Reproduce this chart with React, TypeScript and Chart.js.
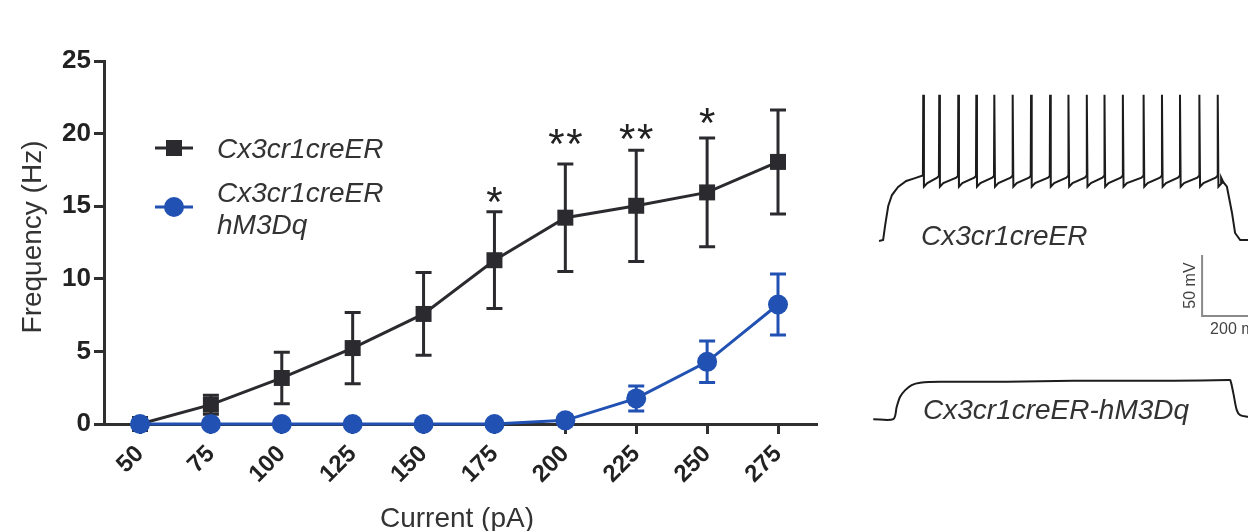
import React, { useEffect, useRef } from "react";
import { Chart, registerables } from "chart.js";
Chart.register(...registerables);

// ---------- Left panel: frequency vs current ----------
const currents = [50, 75, 100, 125, 150, 175, 200, 225, 250, 275];
const ctrlFreq = [0, 1.33, 3.17, 5.23, 7.58, 11.28, 14.21, 15.03, 15.95, 18.05];
const ctrlSem = [0, 0.65, 1.77, 2.45, 2.85, 3.33, 3.7, 3.83, 3.75, 3.58];
const dqFreq = [0, 0, 0, 0, 0, 0, 0.25, 1.76, 4.28, 8.23];
const dqSem = [0, 0, 0, 0, 0, 0, 0, 0.86, 1.43, 2.1];
const yTicks = [0, 5, 10, 15, 20, 25];
const sigCurrents = [175, 200, 225, 250];
const sigLabels = ["*", "**", "**", "*"];
const sigHeights = [15.95, 20.0, 20.3, 21.4];
const seriesNames = ["Cx3cr1creER", "Cx3cr1creER", "hM3Dq"];
const xTitle = "Current (pA)";
const yTitle = "Frequency (Hz)";

// ---------- Right panel: voltage traces (ms, mV) ----------
const ctrlSpikeTimes = [118, 165, 221, 274, 327, 381, 435, 491, 545, 599, 651, 705, 766, 820, 873, 930, 984];
const ctrlOnset: [number, number][] = [[-12, -70], [0, -69.2], [6, -56.9], [15, -41.3], [26, -32.3], [44, -25.7], [68, -20.8], [94, -18.4], [114, -16.5]];
const ctrlOffset: [number, number][] = [[1000, -21.6], [1011, -25.5], [1026, -47], [1035, -63.4], [1050, -69.2], [1075, -69.2]];
const spikePeak = 50;
const spikeTrough = -25.5;
const spikeThreshold = -16.5;
const dqTrace: [number, number][] = [[-29, -70], [30, -70], [40, -59.9], [50, -51.7], [65, -46.2], [84, -42.1], [109, -40.2], [168, -39.4], [364, -39.4], [559, -38.6], [853, -38.6], [1016, -38], [1021, -38], [1030, -48.9], [1040, -62.6], [1050, -66.7], [1075, -68.1]];
const dqDisplayOffset = 146;
const scaleBarT = 938;
const scaleBarBottom = -131.5;
const scaleBarMv = 50;
const scaleBarMs = 200;
const traceNames = ["Cx3cr1creER", "Cx3cr1creER-hM3Dq"];

const DARK = "#2b2b2f";
const BLUE = "#2151b2";
const AXIS = "#2f2f2f";
const FONT = "Arial, 'Liberation Sans', Helvetica, sans-serif";

const errorBarPlugin = {
  id: "errorBars",
  afterDatasetDraw(chart: any, args: any) {
    const ds = chart.data.datasets[args.index];
    const sem: number[] = ds.sem;
    if (!sem) return;
    const ctx = chart.ctx;
    const ys = chart.scales.y;
    ctx.save();
    ctx.strokeStyle = ds.borderColor;
    ctx.lineWidth = 3;
    args.meta.data.forEach((pt: any, j: number) => {
      if (!sem[j]) return;
      const v = ds.data[j].y;
      const top = ys.getPixelForValue(v + sem[j]);
      const bot = ys.getPixelForValue(v - sem[j]);
      const x = pt.x;
      ctx.beginPath();
      ctx.moveTo(x, top);
      ctx.lineTo(x, bot);
      ctx.moveTo(x - 8, top);
      ctx.lineTo(x + 8, top);
      ctx.moveTo(x - 8, bot);
      ctx.lineTo(x + 8, bot);
      ctx.stroke();
    });
    ctx.restore();
  },
};

const decorPlugin = {
  id: "decor",
  afterDraw(chart: any) {
    const ctx = chart.ctx;
    const xs = chart.scales.x;
    const ys = chart.scales.y;
    ctx.save();
    // significance stars
    ctx.fillStyle = "#222";
    ctx.font = `42px ${FONT}`;
    ctx.textAlign = "center";
    ctx.textBaseline = "alphabetic";
    sigCurrents.forEach((c, i) => {
      const x = xs.getPixelForValue(c);
      const y = ys.getPixelForValue(sigHeights[i]) + 24;
      const n = sigLabels[i].length;
      for (let k = 0; k < n; k++) {
        const dx = (k - (n - 1) / 2) * 18;
        ctx.fillText("*", x + dx, y);
      }
    });
    // legend
    ctx.lineWidth = 3;
    ctx.strokeStyle = DARK;
    ctx.fillStyle = DARK;
    ctx.beginPath();
    ctx.moveTo(155, 148);
    ctx.lineTo(193, 148);
    ctx.stroke();
    ctx.fillRect(174 - 8, 148 - 8, 16, 16);
    ctx.strokeStyle = BLUE;
    ctx.fillStyle = BLUE;
    ctx.beginPath();
    ctx.moveTo(155, 207);
    ctx.lineTo(193, 207);
    ctx.stroke();
    ctx.beginPath();
    ctx.arc(174, 207, 10, 0, Math.PI * 2);
    ctx.fill();
    ctx.fillStyle = "#333";
    ctx.font = `italic 28px ${FONT}`;
    ctx.textAlign = "left";
    ctx.fillText(seriesNames[0], 217, 158);
    ctx.fillText(seriesNames[1], 217, 202);
    ctx.fillText(seriesNames[2], 217, 234);
    // axis titles
    ctx.font = `28px ${FONT}`;
    ctx.textAlign = "center";
    ctx.fillText(xTitle, 457, 527);
    ctx.translate(33, 237);
    ctx.rotate(-Math.PI / 2);
    ctx.textBaseline = "middle";
    ctx.fillText(yTitle, 0, 0);
    ctx.restore();
  },
};

const tracePlugin = {
  id: "traceText",
  afterDraw(chart: any) {
    const ctx = chart.ctx;
    const xs = chart.scales.x;
    const ys = chart.scales.y;
    ctx.save();
    ctx.fillStyle = "#333";
    ctx.font = `italic 28px ${FONT}`;
    ctx.textAlign = "left";
    ctx.textBaseline = "alphabetic";
    ctx.fillText(traceNames[0], 61, 185);
    ctx.fillText(traceNames[1], 63, 359);
    ctx.fillStyle = "#444";
    ctx.font = `16px ${FONT}`;
    const bx = xs.getPixelForValue(scaleBarT);
    const by = ys.getPixelForValue(scaleBarBottom);
    const bmid = ys.getPixelForValue(scaleBarBottom + scaleBarMv / 2);
    ctx.fillText(`${scaleBarMs} ms`, bx + 8, by + 18);
    ctx.translate(bx - 7, bmid);
    ctx.rotate(-Math.PI / 2);
    ctx.textAlign = "center";
    ctx.fillText(`${scaleBarMv} mV`, 0, 0);
    ctx.restore();
  },
};

function buildCtrlTrace() {
  const pts: { x: number; y: number }[] = ctrlOnset.map(([x, y]) => ({ x, y }));
  ctrlSpikeTimes.forEach((ts, i) => {
    const next = i + 1 < ctrlSpikeTimes.length ? ctrlSpikeTimes[i + 1] : 1000;
    pts.push({ x: ts - 1, y: spikeThreshold });
    pts.push({ x: ts, y: spikePeak });
    pts.push({ x: ts + 2, y: spikeTrough });
    pts.push({ x: ts + 12, y: spikeTrough + 3 });
    pts.push({ x: next - 6, y: spikeThreshold - 1.5 });
  });
  ctrlOffset.forEach(([x, y]) => pts.push({ x, y }));
  return pts;
}

export default function App() {
  const leftRef = useRef<HTMLCanvasElement>(null);
  const rightRef = useRef<HTMLCanvasElement>(null);

  useEffect(() => {
    const axisCommon = {
      grid: { drawOnChartArea: false, drawTicks: true, tickLength: 10, color: AXIS, lineWidth: 3 },
      border: { display: true, color: AXIS, width: 3 },
    };
    const c1 = new Chart(leftRef.current as HTMLCanvasElement, {
      type: "line",
      data: {
        datasets: [
          {
            label: seriesNames[1] + " " + seriesNames[2],
            data: currents.map((c, i) => ({ x: c, y: dqFreq[i] })),
            sem: dqSem,
            borderColor: BLUE,
            backgroundColor: BLUE,
            borderWidth: 3,
            pointStyle: "circle",
            pointRadius: 10,
            pointBorderWidth: 0,
            tension: 0,
            order: 0,
            clip: false,
          } as any,
          {
            label: seriesNames[0],
            data: currents.map((c, i) => ({ x: c, y: ctrlFreq[i] })),
            sem: ctrlSem,
            borderColor: DARK,
            backgroundColor: DARK,
            borderWidth: 3,
            pointStyle: "rect",
            pointRadius: 11.3,
            pointBorderWidth: 0,
            tension: 0,
            order: 1,
            clip: false,
          } as any,
        ],
      },
      options: {
        responsive: false,
        animation: false,
        devicePixelRatio: 1,
        events: [],
        layout: { padding: { top: 61, right: 24, left: 0, bottom: 0 } },
        plugins: { legend: { display: false }, tooltip: { enabled: false } },
        scales: {
          x: {
            type: "linear",
            min: 37.3,
            max: 288.4,
            afterBuildTicks: (s: any) => {
              s.ticks = currents.map((v) => ({ value: v }));
            },
            afterFit: (s: any) => {
              s.height = 107;
            },
            ticks: {
              autoSkip: false,
              minRotation: 45,
              maxRotation: 45,
              padding: 6,
              color: "#222",
              font: { family: FONT, size: 24, weight: "bold" },
            },
            ...axisCommon,
          },
          y: {
            type: "linear",
            min: 0,
            max: 25,
            afterBuildTicks: (s: any) => {
              s.ticks = yTicks.map((v) => ({ value: v }));
            },
            afterFit: (s: any) => {
              s.width = 104;
            },
            ticks: {
              padding: 3,
              color: "#222",
              font: { family: FONT, size: 26, weight: "bold" },
            },
            ...axisCommon,
          },
        },
      } as any,
      plugins: [errorBarPlugin, decorPlugin],
    });

    const c2 = new Chart(rightRef.current as HTMLCanvasElement, {
      type: "line",
      data: {
        datasets: [
          {
            data: buildCtrlTrace(),
            borderColor: "#1c1c1c",
            borderWidth: 2,
            pointRadius: 0,
            tension: 0,
          },
          {
            data: dqTrace.map(([x, y]) => ({ x, y: y - dqDisplayOffset })),
            borderColor: "#1c1c1c",
            borderWidth: 2,
            pointRadius: 0,
            tension: 0.3,
          },
          {
            data: [
              { x: scaleBarT, y: scaleBarBottom + scaleBarMv },
              { x: scaleBarT, y: scaleBarBottom },
              { x: scaleBarT + scaleBarMs, y: scaleBarBottom },
            ],
            borderColor: "#8a8a8a",
            borderWidth: 2,
            pointRadius: 0,
            tension: 0,
          },
        ] as any,
      },
      options: {
        responsive: false,
        animation: false,
        devicePixelRatio: 1,
        events: [],
        layout: { padding: 0 },
        plugins: { legend: { display: false }, tooltip: { enabled: false } },
        scales: {
          x: { type: "linear", display: false, min: -68, max: 1073 },
          y: { type: "linear", display: false, min: -249.5, max: 78.4 },
        },
      } as any,
      plugins: [tracePlugin],
    });

    return () => {
      c1.destroy();
      c2.destroy();
    };
  }, []);

  return (
    <div style={{ position: "fixed", left: 0, top: 0, width: 1248, height: 531, background: "#fff", overflow: "hidden" }}>
      <canvas ref={leftRef} width={840} height={531} style={{ position: "absolute", left: 0, top: 0, width: 840, height: 531 }} />
      <canvas ref={rightRef} width={388} height={400} style={{ position: "absolute", left: 860, top: 60, width: 388, height: 400 }} />
    </div>
  );
}
